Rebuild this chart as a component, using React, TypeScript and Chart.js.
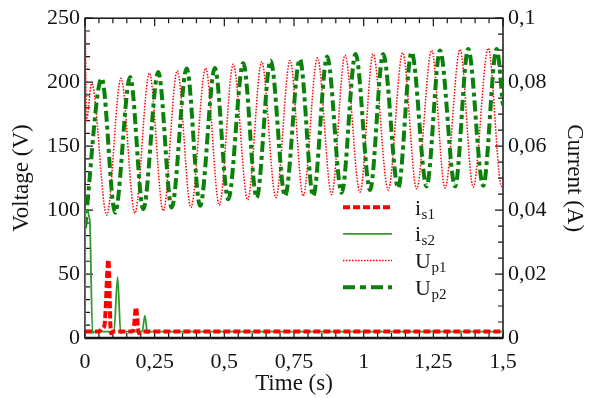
import React, { useEffect, useRef } from 'react';
import { Chart, registerables } from 'chart.js';

Chart.register(...registerables);

// Axis tick labels (decimal comma)
const timeTickLabels = ['0', '0,25', '0,5', '0,75', '1', '1,25', '1,5'];
const voltageTickLabels = ['0', '50', '100', '150', '200', '250'];
const currentTickLabels = ['0', '0,02', '0,04', '0,06', '0,08', '0,1'];

// Primary voltage U_p1 (V): start-up jump, then alternating peaks and troughs
const up1Time = [0, 0.0008, 0.005, 0.024, 0.078, 0.129, 0.179, 0.231, 0.281, 0.331, 0.38, 0.433, 0.482, 0.532, 0.584, 0.634, 0.685, 0.736, 0.783, 0.834, 0.885, 0.933, 0.987, 1.034, 1.088, 1.14, 1.19, 1.244, 1.292, 1.346, 1.393, 1.447, 1.495, 1.5];
const up1Volt = [0, 241, 170, 199, 96, 203, 97.6, 207, 99.4, 209, 102, 211, 103.8, 214, 108, 216, 109.7, 217, 111, 219, 112.2, 221, 114, 222, 115.6, 223, 116.6, 225, 117.3, 225.5, 117.9, 226.5, 118.6, 119];

// Primary voltage U_p2 (V)
const up2Time = [0, 0.06, 0.108, 0.162, 0.209, 0.263, 0.311, 0.365, 0.413, 0.466, 0.514, 0.568, 0.616, 0.666, 0.718, 0.771, 0.819, 0.869, 0.921, 0.971, 1.023, 1.07, 1.124, 1.172, 1.226, 1.274, 1.328, 1.375, 1.429, 1.477, 1.5];
const up2Volt = [86, 203, 98, 204, 100.7, 208, 102, 210.7, 103.3, 211, 108.4, 215, 109.7, 217, 111, 218, 111, 220, 113.5, 222, 115.6, 222, 117.3, 223.4, 118.6, 224.7, 118.6, 226, 119, 226, 182];

// Secondary current i_s1 (A)
const is1Time = [0, 0.05, 0.062, 0.07, 0.084, 0.093, 0.1, 0.165, 0.174, 0.183, 0.193, 0.2, 1.5];
const is1Amp = [0.002, 0.002, 0.003, 0.004, 0.0245, 0.0015, 0.002, 0.002, 0.0025, 0.0096, 0.0015, 0.002, 0.002];

// Secondary current i_s2 (A)
const is2Time = [0, 0.001, 0.017, 0.027, 0.035, 0.104, 0.117, 0.128, 0.135, 0.205, 0.215, 0.224, 0.23, 1.5];
const is2Amp = [0.002, 0.04, 0.0368, 0.0015, 0.002, 0.002, 0.019, 0.0015, 0.002, 0.002, 0.007, 0.0015, 0.002, 0.002];

const SERIF = "'Liberation Serif', 'Times New Roman', serif";
const INK = '#151515';
const RED = '#ff0000';
const GREEN_DARK = '#0b800b';
const GREEN_LIGHT = '#2f9a2f';

const toPoints = (xs: number[], ys: number[]) => xs.map((x, i) => ({ x, y: ys[i] }));

type LegendEntry = { main: string; sub: string; color: string; width: number; dash: number[] };
const legendEntries: LegendEntry[] = [
  { main: 'i', sub: 's1', color: RED, width: 4, dash: [7, 3] },
  { main: 'i', sub: 's2', color: GREEN_LIGHT, width: 1.8, dash: [] },
  { main: 'U', sub: 'p1', color: RED, width: 1.5, dash: [1.5, 1.5] },
  { main: 'U', sub: 'p2', color: GREEN_DARK, width: 4, dash: [12, 5, 6, 5] },
];

// Frame with inward major/minor tick marks on all four sides
const framePlugin = {
  id: 'frameTicks',
  beforeDatasetsDraw(chart: any) {
    const { ctx, chartArea: a, scales } = chart;
    ctx.save();
    ctx.strokeStyle = INK;
    ctx.lineWidth = 1.5;
    ctx.strokeRect(a.left, a.top, a.right - a.left, a.bottom - a.top);
    ctx.lineWidth = 2.5;
    ctx.beginPath();
    ctx.moveTo(a.left, a.bottom);
    ctx.lineTo(a.right, a.bottom);
    ctx.stroke();
    ctx.lineWidth = 1.2;
    ctx.beginPath();
    for (let i = 0; i <= 30; i++) {
      const px = scales.x.getPixelForValue(i * 0.05);
      const len = i % 5 === 0 ? 8 : 5;
      ctx.moveTo(px, a.bottom);
      ctx.lineTo(px, a.bottom - len);
      ctx.moveTo(px, a.top);
      ctx.lineTo(px, a.top + len);
    }
    for (let i = 0; i <= 25; i++) {
      const py = scales.y.getPixelForValue(i * 10);
      const len = i % 5 === 0 ? 8 : 5;
      ctx.moveTo(a.left, py);
      ctx.lineTo(a.left + len, py);
    }
    for (let i = 0; i <= 20; i++) {
      const py = scales.y1.getPixelForValue(i * 0.005);
      const len = i % 4 === 0 ? 8 : 5;
      ctx.moveTo(a.right, py);
      ctx.lineTo(a.right - len, py);
    }
    ctx.stroke();
    ctx.restore();
  },
};

// Legend inside the plot, with subscripted labels
const legendPlugin = {
  id: 'subscriptLegend',
  afterDatasetsDraw(chart: any) {
    const { ctx, chartArea: a } = chart;
    ctx.save();
    legendEntries.forEach((e, i) => {
      const y = a.top + 189 + i * 26.7;
      ctx.strokeStyle = e.color;
      ctx.lineWidth = e.width;
      ctx.setLineDash(e.dash);
      ctx.beginPath();
      ctx.moveTo(a.left + 258, y);
      ctx.lineTo(a.left + 307, y);
      ctx.stroke();
      ctx.setLineDash([]);
      ctx.fillStyle = INK;
      ctx.textAlign = 'left';
      ctx.textBaseline = 'alphabetic';
      ctx.font = `22px ${SERIF}`;
      const tx = a.left + 330;
      ctx.fillText(e.main, tx, y + 7.5);
      const w = ctx.measureText(e.main).width;
      ctx.font = `15px ${SERIF}`;
      ctx.fillText(e.sub, tx + w + 0.5, y + 11.5);
    });
    ctx.restore();
  },
};

export default function App() {
  const canvasRef = useRef<HTMLCanvasElement | null>(null);

  useEffect(() => {
    if (!canvasRef.current) return;
    const tickFont = { family: SERIF, size: 22 };
    const titleFont = { family: SERIF, size: 23 };
    const chart = new Chart(canvasRef.current, {
      type: 'line',
      data: {
        datasets: [
          {
            label: 'is1',
            data: toPoints(is1Time, is1Amp),
            yAxisID: 'y1',
            borderColor: RED,
            borderWidth: 4,
            borderDash: [7, 3],
            cubicInterpolationMode: 'monotone',
            order: 0,
          },
          {
            label: 'is2',
            data: toPoints(is2Time, is2Amp),
            yAxisID: 'y1',
            borderColor: GREEN_LIGHT,
            borderWidth: 1.8,
            cubicInterpolationMode: 'monotone',
            order: 1,
          },
          {
            label: 'Up2',
            data: toPoints(up2Time, up2Volt),
            yAxisID: 'y',
            borderColor: GREEN_DARK,
            borderWidth: 4,
            borderDash: [11, 4, 4, 4],
            cubicInterpolationMode: 'monotone',
            order: 2,
          },
          {
            label: 'Up1',
            data: toPoints(up1Time, up1Volt),
            yAxisID: 'y',
            borderColor: RED,
            borderWidth: 1.5,
            borderDash: [1.5, 1.5],
            cubicInterpolationMode: 'monotone',
            segment: {
              borderDash: (c: any) => (c.p0DataIndex === 0 ? [] : [1.5, 1.5]),
            },
            order: 3,
          },
        ] as any,
      },
      options: {
        animation: false,
        responsive: false,
        devicePixelRatio: 1,
        layout: { padding: { top: 12, left: 0, right: 0, bottom: 0 } },
        elements: { point: { radius: 0 } },
        plugins: { legend: { display: false }, tooltip: { enabled: false } },
        scales: {
          x: {
            type: 'linear',
            min: 0,
            max: 1.5,
            grid: { display: false, drawTicks: false },
            border: { display: false },
            ticks: {
              stepSize: 0.25,
              autoSkip: false,
              maxRotation: 0,
              padding: 11,
              color: INK,
              font: tickFont,
              callback: (_v: any, i: number) => timeTickLabels[i],
            },
            title: { display: true, text: 'Time (s)', color: INK, font: titleFont, padding: { top: 0, bottom: 0 } },
            afterFit: (s: any) => {
              s.height = 60;
            },
          },
          y: {
            position: 'left',
            min: 0,
            max: 250,
            grid: { display: false, drawTicks: false },
            border: { display: false },
            ticks: {
              stepSize: 50,
              padding: 5,
              color: INK,
              font: tickFont,
              callback: (_v: any, i: number) => voltageTickLabels[i],
            },
            title: { display: true, text: 'Voltage (V)', color: INK, font: titleFont, padding: { top: 8, bottom: 0 } },
            afterFit: (s: any) => {
              s.width = 85;
            },
          },
          y1: {
            position: 'right',
            min: 0,
            max: 0.1,
            grid: { display: false, drawTicks: false },
            border: { display: false },
            ticks: {
              stepSize: 0.02,
              padding: 5,
              color: INK,
              font: tickFont,
              callback: (_v: any, i: number) => currentTickLabels[i],
            },
            title: { display: true, text: 'Current (A)', color: INK, font: titleFont, padding: { top: 6, bottom: 0 } },
            afterFit: (s: any) => {
              s.width = 91;
            },
          },
        },
      } as any,
      plugins: [framePlugin, legendPlugin],
    });
    return () => chart.destroy();
  }, []);

  return (
    <div style={{ position: 'fixed', left: 0, top: 0, width: 594, height: 398, background: '#fff' }}>
      <canvas ref={canvasRef} width={594} height={398} style={{ display: 'block' }} />
    </div>
  );
}
